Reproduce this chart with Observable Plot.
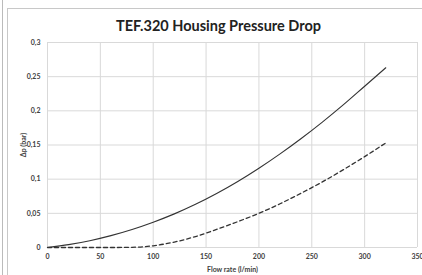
<!DOCTYPE html>
<html>
<head>
<meta charset="utf-8">
<script src="https://cdn.jsdelivr.net/npm/d3@7"></script>
<script src="https://cdn.jsdelivr.net/npm/@observablehq/plot@0.6"></script>
<style>
  html, body { margin: 0; padding: 0; background: #fff; }
  #chart { width: 422px; height: 275px; overflow: hidden; }
</style>
</head>
<body>
<div id="chart"></div>
<script>
const title = "TEF.320 Housing Pressure Drop";
const xLabel = "Flow rate (l/min)";
const yLabel = "Δp (bar)";
const xTicks = [0, 50, 100, 150, 200, 250, 300, 350];
const yTicks = [0, 0.05, 0.1, 0.15, 0.2, 0.25, 0.3];

const flowSolid = [0, 20, 40, 60, 80, 100, 120, 140, 160, 180, 200, 220, 240, 260, 280, 300, 320];
const dpSolid   = [0, 0.0042, 0.0100, 0.0174, 0.0264, 0.0370, 0.0492, 0.0632, 0.0790, 0.0966, 0.1160, 0.1370, 0.1595, 0.1835, 0.2090, 0.2360, 0.2630];

const flowDashed = [0, 20, 40, 60, 80, 100, 120, 140, 160, 180, 200, 220, 240, 260, 280, 300, 320];
const dpDashed   = [0, 0, 0, 0, 0.0003, 0.0025, 0.0080, 0.0160, 0.0265, 0.0378, 0.0500, 0.0640, 0.0795, 0.0960, 0.1140, 0.1330, 0.1530];

const solid = flowSolid.map((x, i) => ({x, y: dpSolid[i]}));
const dashed = flowDashed.map((x, i) => ({x, y: dpDashed[i]}));

const fmt = d => String(d).replace(".", ",");
const font = "Lato, 'Open Sans', sans-serif";

const plot = Plot.plot({
  width: 422,
  height: 275,
  marginLeft: 47,
  marginRight: 5,
  marginTop: 42,
  marginBottom: 28,
  style: {fontFamily: font, fontSize: "7px", fontWeight: "bold", color: "#404040", background: "transparent"},
  x: {domain: [0, 350], ticks: xTicks, tickSize: 0, tickPadding: 7, label: xLabel, labelAnchor: "center", labelArrow: "none", labelOffset: 24, tickFormat: fmt},
  y: {domain: [0, 0.3], ticks: yTicks, tickSize: 0, tickPadding: 7, label: yLabel, labelAnchor: "center", labelArrow: "none", labelOffset: 26, tickFormat: fmt},
  marks: [
    Plot.gridX(xTicks, {stroke: "#d9d9d9", strokeOpacity: 1, strokeWidth: 1}),
    Plot.gridY(yTicks, {stroke: "#d9d9d9", strokeOpacity: 1, strokeWidth: 1}),
    Plot.line(dashed, {x: "x", y: "y", curve: "monotone-x", stroke: "#333", strokeWidth: 1.3, strokeDasharray: "4,3"}),
    Plot.line(solid, {x: "x", y: "y", curve: "monotone-x", stroke: "#333", strokeWidth: 1.1}),
    Plot.text([title], {frameAnchor: "top", dx: -14, dy: -22, fontSize: 14.5, fontWeight: "bold", fill: "#222", fontFamily: font})
  ]
});

const svg = d3.select(plot);
svg.insert("line", ":first-child").attr("x1", 2.5).attr("x2", 2.5).attr("y1", 0).attr("y2", 275).attr("stroke", "#bbb");
svg.insert("rect", ":first-child").attr("x", 7.5).attr("y", 8.5).attr("width", 430).attr("height", 280).attr("fill", "none").attr("stroke", "#c8c8c8");
document.getElementById("chart").appendChild(plot);
</script>
</body>
</html>
